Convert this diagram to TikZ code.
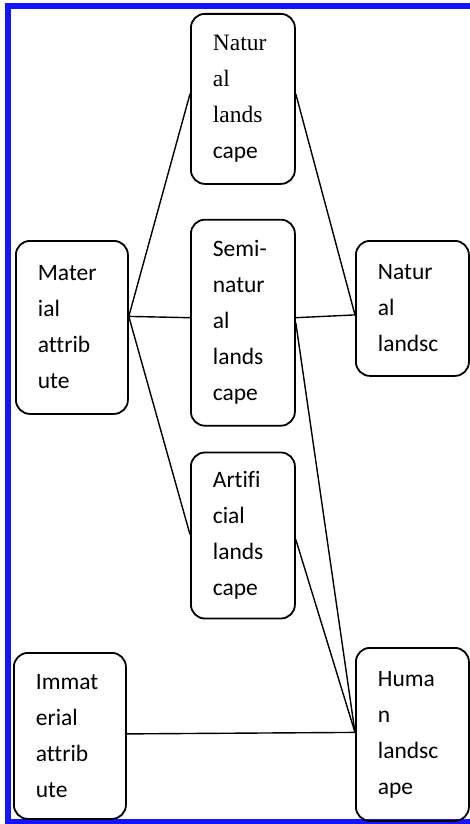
\documentclass[tikz,border=0pt]{standalone}
\usepackage{fontspec}
\setmainfont{Carlito}[Ligatures=NoCommon]
\newfontfamily\serifpart{Liberation Serif}
\usetikzlibrary{positioning}
\definecolor{frameblue}{RGB}{20,20,255}

\begin{document}
\begin{tikzpicture}[x=1pt,y=-1pt,
  every node/.style={font=\fontsize{23.5}{36}\selectfont},
  box/.style={draw,rounded corners=14pt,line width=1.8pt,align=left,
              inner xsep=22pt,inner ysep=0pt},
  link/.style={line width=1.4pt}]
  \useasboundingbox (0,0) rectangle (469,824);
  \draw[frameblue,line width=6pt] (8,6.5) rectangle (490,822);

  % middle column
  \node[box,text width=60pt,minimum height=170pt,anchor=north west] (natls) at (190,13)
    {{\serifpart Natur}\\{\serifpart al}\\{\serifpart lands}\\cape};
  \node[box,text width=60pt,minimum height=206pt,below=34pt of natls] (semi)
    {Semi-\\natur\\al\\lands\\cape};
  \node[box,text width=60pt,minimum height=166pt,below=25pt of semi] (art)
    {Artifi\\cial\\lands\\cape};

  % left column
  \node[box,text width=68pt,minimum height=173pt,anchor=north west] (mat) at (15,240)
    {Mater\\ial\\attrib\\ute};
  \node[box,text width=68pt,minimum height=166pt,anchor=north west] (immat) at (13,652)
    {Immat\\erial\\attrib\\ute};

  % right column
  \node[box,text width=69pt,minimum height=135pt,anchor=north west] (natl) at (355,240)
    {Natur\\al\\landsc};
  \node[box,text width=69pt,minimum height=173pt,anchor=north west] (human) at (355,647)
    {Huma\\n\\landsc\\ape};

  \draw[link] ([yshift=11pt]mat.east) -- ([yshift=5pt]natls.west);
  \draw[link] ([yshift=11pt]mat.east) -- ([yshift=5pt]semi.west);
  \draw[link] ([yshift=11pt]mat.east) -- ([yshift=1pt]art.west);
  \draw[link] ([yshift=5pt]natls.east) -- ([yshift=-6.5pt]natl.west);
  \draw[link] ([yshift=5pt]semi.east) -- ([yshift=-6.5pt]natl.west);
  \draw[link] (semi.east) -- ([yshift=2pt]human.west);
  \draw[link] ([yshift=-4pt]art.east) -- ([yshift=2pt]human.west);
  \draw[link] ([yshift=2pt]immat.east) -- ([yshift=2pt]human.west);
\end{tikzpicture}
\end{document}
